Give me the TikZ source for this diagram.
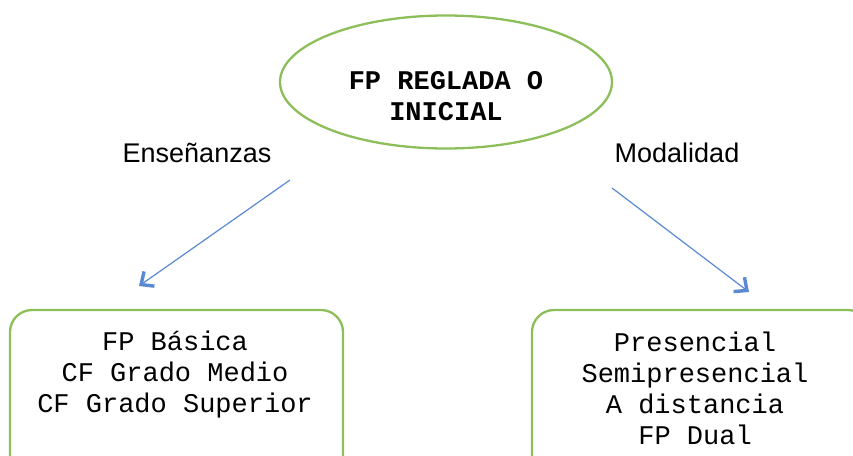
\documentclass[tikz,border=0pt]{standalone}
\usepackage{fontspec}
\setmainfont{Liberation Sans}
\newfontfamily\monofont{Liberation Mono}
\usetikzlibrary{shapes.geometric,arrows.meta}
\definecolor{leaf}{RGB}{140,190,90}
\definecolor{sky}{RGB}{90,137,212}
\tikzset{
  frame/.style={draw=leaf,line width=2.3pt},
  monotext/.style={font=\monofont\fontsize{27}{31}\selectfont,align=center,inner sep=0pt},
  sidelabel/.style={font=\fontsize{27}{30}\selectfont,inner sep=0pt},
  link/.style={draw=sky,line width=1.2pt,-{Straight Barb[length=10pt,width=18pt,line width=3.4pt]}}
}
\begin{document}
\begin{tikzpicture}[x=1pt,y=-1pt]
\useasboundingbox (0,0) rectangle (853,455);
\clip (0,0) rectangle (853,455);
\node[frame,ellipse,minimum width=332,minimum height=133] (top) at (446,82) {};
\node[monotext,font=\monofont\bfseries\fontsize{27}{31}\selectfont] (toptext) at (446,96) {FP REGLADA O\\INICIAL};
\node[sidelabel] (ens) at (197,153) {Enseñanzas};
\node[sidelabel] (mod) at (677,153) {Modalidad};
\node[frame,rectangle,rounded corners=22pt,minimum width=333,minimum height=170] (left) at (176.5,395) {};
\node[frame,rectangle,rounded corners=22pt,minimum width=338,minimum height=170] (right) at (701,395) {};
\node[monotext] (lefttext) at (175,375) {FP Básica\\CF Grado Medio\\CF Grado Superior};
\node[monotext] (righttext) at (695,388) {Presencial\\Semipresencial\\A distancia\\FP Dual};
\coordinate (a1) at (290,180);
\coordinate (a2) at (139,286);
\coordinate (b1) at (612,188);
\coordinate (b2) at (749,292);
\draw[link] (a1) -- (a2);
\draw[link] (b1) -- (b2);
\end{tikzpicture}
\end{document}
